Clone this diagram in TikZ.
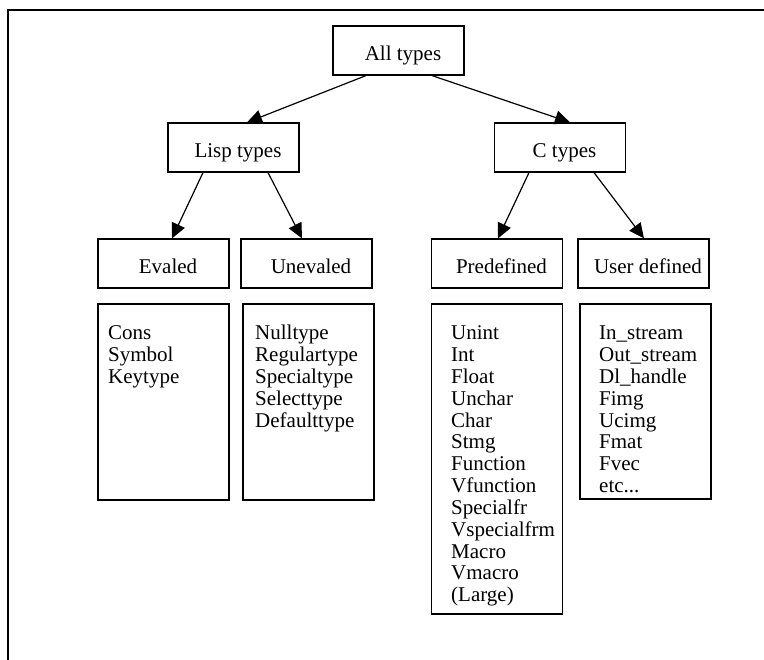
\documentclass[tikz,border=0pt]{standalone}
\usepackage{fontspec}
\setmainfont{Liberation Serif}
\usetikzlibrary{arrows.meta}
\tikzset{
  typebox/.style={draw, line width=1.2pt, minimum width=131pt, minimum height=49pt,
    inner xsep=2pt, text height=21pt, text depth=0pt,
    execute at begin node={\hspace*{9pt}}},
  listbox/.style={draw, line width=1.2pt, minimum width=131pt, inner sep=0pt},
  item/.style={anchor=base west, inner sep=0pt},
  link/.style={line width=1.2pt, -{Triangle[length=15pt,width=14pt]}}
}

\begin{document}
\begin{tikzpicture}[x=1pt, y=-1pt, every node/.style={font=\fontsize{21pt}{21.8pt}\selectfont}]
    \useasboundingbox (0,0) rectangle (764,660);
    \draw[line width=1.4pt] (764,10) -- (8,10) -- (8,660);

    \node[typebox] (all) at (398.5,50.5) {All types};
    \node[typebox] (lisp) at (233.5,147.5) {Lisp types};
    \node[typebox] (ctyp) at (560,147.5) {C types};
    \node[typebox] (evaled) at (163.5,263.5) {Evaled};
    \node[typebox] (unevaled) at (306.5,263.5) {Unevaled};
    \node[typebox] (predef) at (497,263.5) {Predefined};
    \node[typebox] (userdef) at (643.5,263.5) {User defined};

    \node[listbox, minimum height=196pt] (evlist) at (163.5,402) {};
    \node[listbox, minimum height=196pt] (unevlist) at (308.5,402) {};
    \node[listbox, minimum height=310pt] (predlist) at (497,459) {};
    \node[listbox, minimum height=195pt] (userlist) at (645.5,401.5) {};

    \foreach \t [count=\i] in {Cons,Symbol,Keytype}
        \node[item] (ev\i) at (108,{340+21.8*(\i-1)}) {\t};
    \foreach \t [count=\i] in {Nulltype,Regulartype,Specialtype,Selecttype,Defaulttype}
        \node[item] (unev\i) at (255,{340+21.8*(\i-1)}) {\t};
    \foreach \t [count=\i] in {Unint,Int,Float,Unchar,Char,Stmg,Function,Vfunction,Specialfr,Vspecialfrm,Macro,Vmacro,{(Large)}}
        \node[item] (pred\i) at (451,{340+21.8*(\i-1)}) {\t};
    \foreach \t [count=\i] in {In\_stream,Out\_stream,Dl\_handle,Fimg,Ucimg,Fmat,Fvec,{etc.{}.{}.}}
        \node[item] (user\i) at (599,{340+21.8*(\i-1)}) {\t};

    \draw[link] ([xshift=-32.5pt]all.south) -- ([xshift=13.5pt]lisp.north);
    \draw[link] ([xshift=33.5pt]all.south) -- ([xshift=10pt]ctyp.north);
    \draw[link] ([xshift=-30.5pt]lisp.south) -- ([xshift=8.5pt]evaled.north);
    \draw[link] ([xshift=34.5pt]lisp.south) -- ([xshift=-4.5pt]unevaled.north);
    \draw[link] ([xshift=-31pt]ctyp.south) -- ([xshift=1pt]predef.north);
    \draw[link] ([xshift=34pt]ctyp.south) -- ([xshift=0.5pt]userdef.north);
\end{tikzpicture}
\end{document}
